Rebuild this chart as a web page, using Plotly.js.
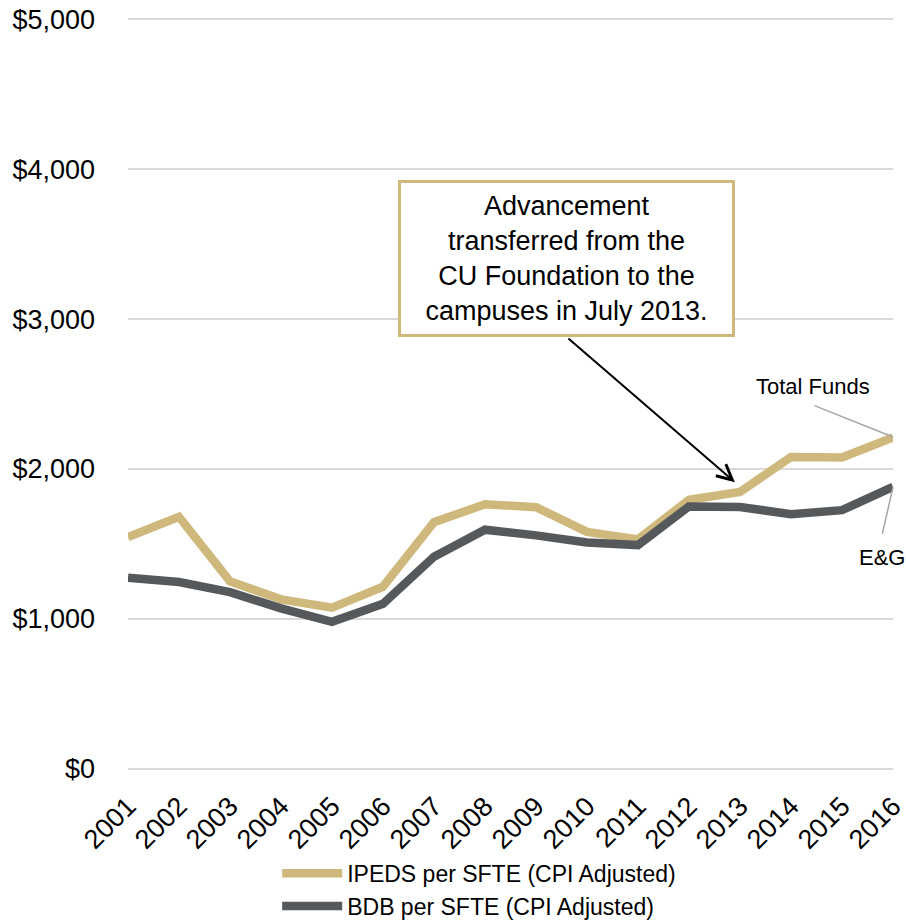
<!DOCTYPE html>
<html>
<head>
<meta charset="utf-8">
<script src="https://cdn.plot.ly/plotly-3.0.1.min.js"></script>
<style>
  html, body { margin: 0; padding: 0; background: #fff; }
  #chart { width: 906px; height: 921px; }
</style>
</head>
<body>
<div id="chart"></div>
<script>
const years = [2001, 2002, 2003, 2004, 2005, 2006, 2007, 2008, 2009, 2010, 2011, 2012, 2013, 2014, 2015, 2016];
const ipedsPerSfte = [1545, 1680, 1250, 1130, 1075, 1215, 1645, 1765, 1745, 1580, 1530, 1795, 1846, 2080, 2076, 2210];
const bdbPerSfte = [1275, 1246, 1178, 1070, 980, 1100, 1415, 1595, 1557, 1510, 1492, 1750, 1746, 1698, 1725, 1880];
const yTickVals = [0, 1000, 2000, 3000, 4000, 5000];
const yTickText = ['$0', '$1,000', '$2,000', '$3,000', '$4,000', '$5,000'];

const gold = '#CFB87C';
const darkGray = '#55595B';
const fontFamily = 'Liberation Sans, Arial, sans-serif';

const ipedsTrace = {
  x: years,
  y: ipedsPerSfte,
  mode: 'lines',
  type: 'scatter',
  name: 'IPEDS per SFTE (CPI Adjusted)',
  line: { color: gold, width: 8.5 }
};

const bdbTrace = {
  x: years,
  y: bdbPerSfte,
  mode: 'lines',
  type: 'scatter',
  name: 'BDB per SFTE (CPI Adjusted)',
  line: { color: darkGray, width: 8.5 }
};

const layout = {
  width: 906,
  height: 921,
  margin: { l: 128, r: 13, t: 17, b: 150, autoexpand: false },
  paper_bgcolor: '#fff',
  plot_bgcolor: '#fff',
  font: { family: fontFamily, color: '#000' },
  showlegend: true,
  legend: {
    orientation: 'v',
    x: 0.195,
    xanchor: 'left',
    y: -0.107,
    yanchor: 'top',
    font: { size: 23, color: '#000' },
    itemwidth: 60,
    tracegroupgap: 0
  },
  xaxis: {
    range: [2001, 2016],
    tickvals: years,
    ticktext: years.map(String),
    tickangle: -45,
    tickfont: { size: 27 },
    showgrid: false,
    zeroline: false,
    showline: false,
    ticklabelstandoff: 13,
    ticklabeloverflow: 'allow'
  },
  yaxis: {
    range: [-15, 5015],
    tickvals: yTickVals,
    ticktext: yTickText,
    tickfont: { size: 27 },
    gridcolor: '#D9D9D9',
    gridwidth: 2,
    zeroline: false,
    showline: false,
    ticklabelstandoff: 32
  },
  annotations: [
    {
      x: 2009.6, y: 3406, xref: 'x', yref: 'y',
      text: 'Advancement<br>transferred from the<br>CU Foundation to the<br>campuses in July 2013.',
      showarrow: false,
      font: { size: 27, color: '#000' },
      align: 'center',
      bgcolor: '#fff',
      bordercolor: gold,
      borderwidth: 3,
      borderpad: 0,
      width: 331,
      height: 151
    },
    {
      x: 2012.9, y: 1912, xref: 'x', yref: 'y',
      text: '',
      showarrow: true,
      ax: -168, ay: -145,
      arrowhead: 5,
      arrowsize: 1.5,
      arrowwidth: 2,
      arrowcolor: '#000'
    },
    {
      x: 2014.43, y: 2547, xref: 'x', yref: 'y',
      text: 'Total Funds',
      showarrow: false,
      font: { size: 22, color: '#000' }
    },
    {
      x: 2016, y: 2213, xref: 'x', yref: 'y',
      text: '',
      showarrow: true,
      ax: -80, ay: -32,
      arrowhead: 0,
      arrowwidth: 1.5,
      arrowcolor: '#A6A6A6'
    },
    {
      x: 2015.78, y: 1410, xref: 'x', yref: 'y',
      text: 'E&amp;G',
      showarrow: false,
      font: { size: 22, color: '#000' }
    },
    {
      x: 2016, y: 1878, xref: 'x', yref: 'y',
      text: '',
      showarrow: true,
      ax: -11, ay: 48,
      arrowhead: 0,
      arrowwidth: 1.5,
      arrowcolor: '#A6A6A6'
    }
  ]
};

Plotly.newPlot('chart', [ipedsTrace, bdbTrace], layout, { displayModeBar: false, staticPlot: true });
</script>
</body>
</html>
